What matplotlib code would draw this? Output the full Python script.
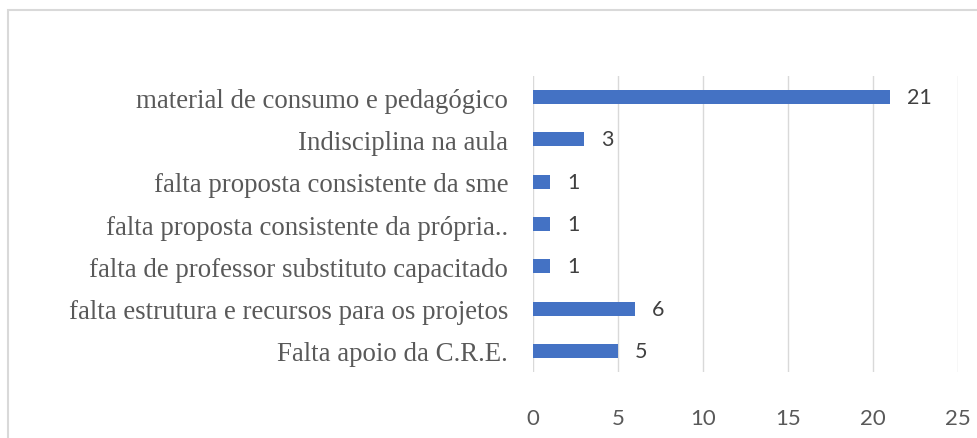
import matplotlib
matplotlib.use("Agg")
import matplotlib.pyplot as plt
from matplotlib.patches import Rectangle

categories = [
    "material de consumo e pedagógico",
    "Indisciplina na aula",
    "falta proposta consistente da sme",
    "falta proposta consistente da própria..",
    "falta de professor substituto capacitado",
    "falta estrutura e recursos para os projetos",
    "Falta apoio da C.R.E.",
]
values = [21, 3, 1, 1, 1, 6, 5]
xticks = [0, 5, 10, 15, 20, 25]

W, H = 978, 439
fig = plt.figure(figsize=(W / 100, H / 100), dpi=100)
ax = fig.add_axes([533 / W, 1 - 373 / H, (958 - 533) / W, (373 - 77) / H])

ypos = list(range(len(categories)))
ax.barh(ypos, values, height=0.33, color="#4472C4", zorder=3)
ax.set_ylim(len(categories) - 0.5, -0.5)
ax.set_xlim(0, 25)
ax.set_xticks(xticks)
ax.set_xticklabels([str(t) for t in xticks], fontfamily="Lato", fontsize=16, color="#595959")
ax.set_yticks(ypos)
ax.set_yticklabels(categories, fontfamily="Liberation Serif", fontsize=19.4, color="#595959")
ax.tick_params(axis="y", length=0, pad=18)
ax.tick_params(axis="x", length=0, pad=26)
ax.grid(axis="x", color="#d9d9d9", linewidth=1, zorder=0)
for s in ax.spines.values():
    s.set_visible(False)

for y, v in zip(ypos, values):
    ax.annotate(str(v), xy=(v, y), xytext=(17, 0), textcoords="offset pixels",
                ha="left", va="center", fontfamily="Lato", fontsize=15.5, color="#404040")

fig.patches.append(Rectangle((8 / W, -0.05), 1.1, 1 - 11 / H + 0.05, transform=fig.transFigure,
                             fill=False, edgecolor="#d9d9d9", linewidth=1.5))

fig.savefig("out.png", dpi=100)
